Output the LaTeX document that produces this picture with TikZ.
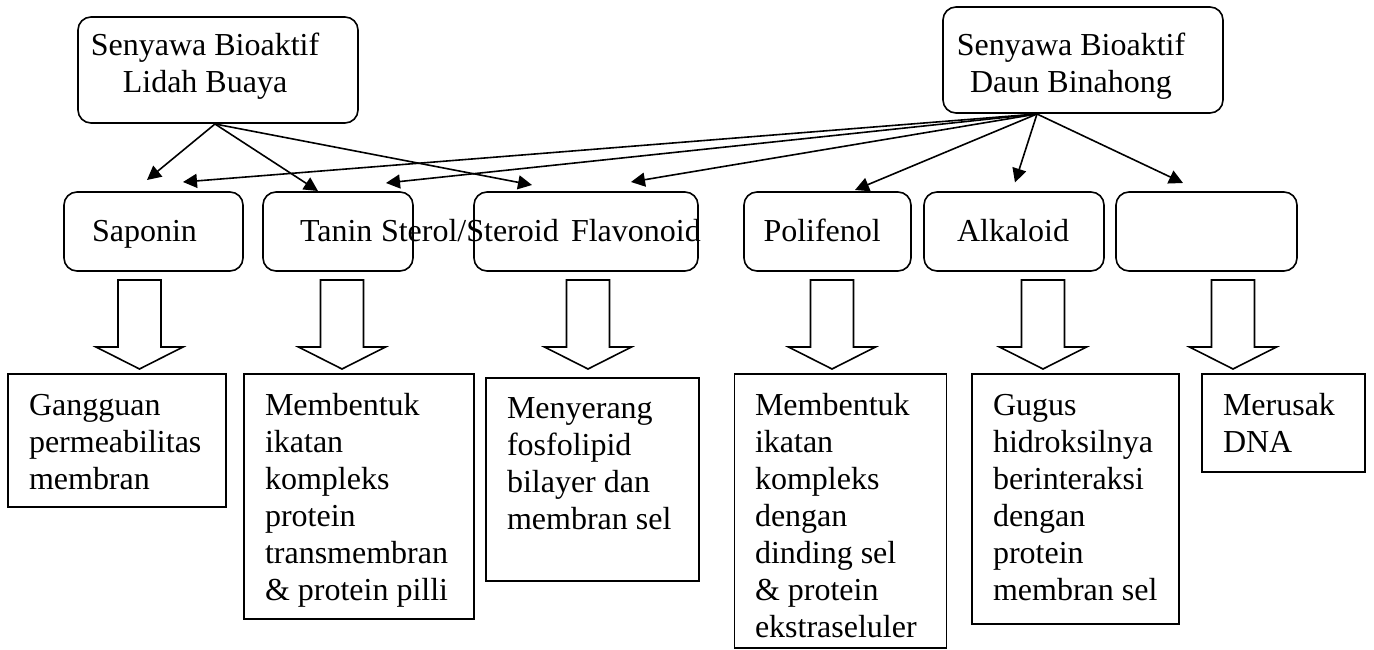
\documentclass[tikz,border=0pt]{standalone}
\usepackage{fontspec}
\setmainfont{Liberation Serif}
\usetikzlibrary{arrows.meta}
\tikzset{
  rbox/.style={draw, rounded corners=13pt, line width=1.6pt, inner sep=0pt},
  sbox/.style={draw, line width=1.6pt, inner sep=0pt},
  txt/.style={inner sep=0pt, outer sep=0pt, font=\fontsize{32}{37}\selectfont},
  conn/.style={line width=1.6pt, -{Triangle[length=14pt,width=14pt]}},
  blk/.style={draw, line width=1.6pt, fill=white, line join=miter},
}
\newcommand\blockarrowat[1]{%
  \draw[blk] (#1-21.5,280) -- (#1+21.5,280) -- (#1+21.5,347) -- (#1+43.5,347)
    -- (#1,369) -- (#1-43.5,347) -- (#1-21.5,347) -- cycle;}
\begin{document}
\begin{tikzpicture}[x=1pt,y=-1pt]
\useasboundingbox (0,0) rectangle (1374,650);
% top boxes
\node[rbox, minimum width=280pt, minimum height=106pt] (lidah) at (218,70) {};
\node[rbox, minimum width=280pt, minimum height=106pt] (binahong) at (1083,60) {};
\node[txt, align=center, anchor=base] (lidahtxt) at (205,93) {Senyawa Bioaktif\\Lidah Buaya};
\node[txt, align=center, anchor=base] (binatxt) at (1071,93) {Senyawa Bioaktif\\Daun Binahong};
% middle boxes
\node[rbox, minimum width=179pt, minimum height=79pt] (saponin) at (153.5,231.5) {};
\node[rbox, minimum width=150pt, minimum height=79pt] (tanin) at (338,231.5) {};
\node[rbox, minimum width=224pt, minimum height=79pt] (flavo) at (586,231.5) {};
\node[rbox, minimum width=167pt, minimum height=79pt] (polif) at (827.5,231.5) {};
\node[rbox, minimum width=180pt, minimum height=79pt] (alka) at (1014,231.5) {};
\node[rbox, minimum width=181pt, minimum height=79pt] (kosong) at (1206.5,231.5) {};
\node[txt, anchor=base west] (saptxt) at (92,241) {Saponin};
\node[txt, anchor=base west] (tantxt) at (300,241) {Tanin};
\node[txt, anchor=base west] (stertxt) at (381,241) {Sterol/Steroid};
\node[txt, anchor=base west] (flavtxt) at (571,241) {Flavonoid};
\node[txt, anchor=base west] (poltxt) at (763.5,241) {Polifenol};
\node[txt, anchor=base west] (alktxt) at (957,241) {Alkaloid};
% connectors
\coordinate (lo) at (215,124);
\coordinate (bo) at (1037,114);
\coordinate (ls) at (147,180);
\coordinate (lt) at (318,191);
\coordinate (lf) at (532,185);
\coordinate (bs) at (183,182);
\coordinate (bt) at (386,183);
\coordinate (bf) at (631,182);
\coordinate (bp) at (855,190);
\coordinate (ba) at (1015,182.5);
\coordinate (be) at (1183,183);
\draw[conn] (lo) -- (ls);
\draw[conn] (lo) -- (lt);
\draw[conn] (lo) -- (lf);
\draw[conn] (bo) -- (bs);
\draw[conn] (bo) -- (bt);
\draw[conn] (bo) -- (bf);
\draw[conn] (bo) -- (bp);
\draw[conn] (bo) -- (ba);
\draw[conn] (bo) -- (be);
% block arrows
\blockarrowat{139.5}
\blockarrowat{342}
\blockarrowat{588}
\blockarrowat{832}
\blockarrowat{1043}
\blockarrowat{1233}
% bottom boxes
\node[sbox, minimum width=218pt, minimum height=133pt] (gangguan) at (117,440.5) {};
\node[sbox, minimum width=230pt, minimum height=245pt] (bentuka) at (359,496.5) {};
\node[sbox, minimum width=213pt, minimum height=203pt] (serang) at (592.5,479.5) {};
\node[sbox, minimum width=212pt, minimum height=274pt] (bentukb) at (840.5,511) {};
\node[sbox, minimum width=207pt, minimum height=250pt] (gugus) at (1075.5,499) {};
\node[sbox, minimum width=163pt, minimum height=98pt] (rusak) at (1283.5,423) {};
\node[txt, align=left, anchor=base west] (gangtxt) at (29,489) {Gangguan\\permeabilitas\\membran};
\node[txt, align=left, anchor=base west] (bentukatxt) at (265,600) {Membentuk\\ikatan\\kompleks\\protein\\transmembran\\\& protein pilli};
\node[txt, align=left, anchor=base west] (serangtxt) at (507,529) {Menyerang\\fosfolipid\\bilayer dan\\membran sel};
\node[txt, align=left, anchor=base west] (bentukbtxt) at (755,637) {Membentuk\\ikatan\\kompleks\\dengan\\dinding sel\\\& protein\\ekstraseluler};
\node[txt, align=left, anchor=base west] (gugustxt) at (993,600) {Gugus\\hidroksilnya\\berinteraksi\\dengan\\protein\\membran sel};
\node[txt, align=left, anchor=base west] (rusaktxt) at (1223,452) {Merusak\\DNA};
\end{tikzpicture}
\end{document}
